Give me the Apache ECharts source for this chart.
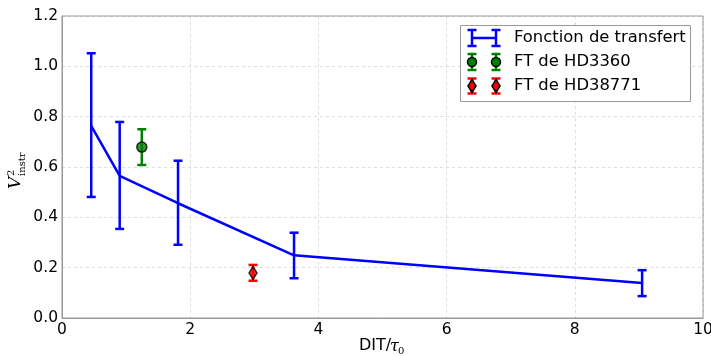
<!DOCTYPE html>
<html><head><meta charset="utf-8">
<script src="https://cdn.jsdelivr.net/npm/echarts@6/dist/echarts.min.js"></script>
<style>html,body{margin:0;padding:0;background:#fff}#c{width:711px;height:356px}</style>
</head><body><div id="c"></div>
<script>
// Transfer function (Fonction de transfert)
var tfX = [0.456, 0.90, 1.81, 3.62, 9.05];
var tfY = [0.763, 0.565, 0.456, 0.249, 0.139];
var tfLow = [0.481, 0.354, 0.291, 0.158, 0.087];
var tfHigh = [1.052, 0.779, 0.625, 0.339, 0.19];
// FT de HD3360
var hd3360X = [1.245];
var hd3360Y = [0.679];
var hd3360Low = [0.608];
var hd3360High = [0.75];
// FT de HD38771
var hd38771X = [2.98];
var hd38771Y = [0.179];
var hd38771Low = [0.148];
var hd38771High = [0.211];
// axis ticks
var xTicks = [0, 2, 4, 6, 8, 10];
var yTicks = [0.0, 0.2, 0.4, 0.6, 0.8, 1.0, 1.2];

var BLUE = '#0000ff', GREEN = '#008000', RED = '#ff0000';
var FONT = 'DejaVu Sans';

function zip3(x, a, b) { return x.map(function (v, i) { return [v, a[i], b[i]]; }); }
function zip2(x, a) { return x.map(function (v, i) { return [v, a[i]]; }); }

function errRender(color) {
  return function (params, api) {
    var x = api.value(0), lo = api.value(1), hi = api.value(2);
    var pLo = api.coord([x, lo]), pHi = api.coord([x, hi]);
    var w = 4.5;
    var st = { stroke: color, lineWidth: 2.5 };
    return {
      type: 'group', children: [
        { type: 'line', shape: { x1: pLo[0], y1: pLo[1], x2: pHi[0], y2: pHi[1] }, style: st },
        { type: 'line', shape: { x1: pLo[0] - w, y1: pLo[1], x2: pLo[0] + w, y2: pLo[1] }, style: st },
        { type: 'line', shape: { x1: pHi[0] - w, y1: pHi[1], x2: pHi[0] + w, y2: pHi[1] }, style: st }
      ]
    };
  };
}

var LZ = 50;
function legendBar(cx, cy, half, color) {
  var st = { stroke: color, lineWidth: 2.5 };
  return [
    { type: 'line', z: LZ + 1, shape: { x1: cx, y1: cy - half, x2: cx, y2: cy + half }, style: st },
    { type: 'line', z: LZ + 1, shape: { x1: cx - 4.5, y1: cy - half, x2: cx + 4.5, y2: cy - half }, style: st },
    { type: 'line', z: LZ + 1, shape: { x1: cx - 4.5, y1: cy + half, x2: cx + 4.5, y2: cy + half }, style: st }
  ];
}

var legendEls = [];
legendEls.push({ type: 'rect', z: LZ, shape: { x: 460.5, y: 25.5, width: 230, height: 76 }, style: { fill: '#fff', stroke: '#999', lineWidth: 1 } });
// entry 1
legendEls = legendEls.concat(legendBar(472, 38, 8, BLUE), legendBar(496, 38, 8, BLUE));
legendEls.push({ type: 'line', z: LZ + 1, shape: { x1: 472, y1: 38, x2: 496, y2: 38 }, style: { stroke: BLUE, lineWidth: 2.5 } });
// entry 2
legendEls = legendEls.concat(legendBar(472, 62, 8, GREEN), legendBar(496, 62, 8, GREEN));
legendEls.push({ type: 'circle', z: LZ + 2, shape: { cx: 472, cy: 62, r: 4.5 }, style: { fill: GREEN, stroke: '#000', lineWidth: 1.5 } });
legendEls.push({ type: 'circle', z: LZ + 2, shape: { cx: 496, cy: 62, r: 4.5 }, style: { fill: GREEN, stroke: '#000', lineWidth: 1.5 } });
// entry 3
legendEls = legendEls.concat(legendBar(472, 86, 7.5, RED), legendBar(496, 86, 7.5, RED));
[472, 496].forEach(function (cx) {
  legendEls.push({ type: 'polygon', z: LZ + 2, shape: { points: [[cx, 79.5], [cx + 4, 86], [cx, 92.5], [cx - 4, 86]] }, style: { fill: RED, stroke: '#000', lineWidth: 1.5 } });
});
var legendNames = ['Fonction de transfert', 'FT de HD3360', 'FT de HD38771'];
[38, 62, 86].forEach(function (y, i) {
  legendEls.push({ type: 'text', z: LZ + 2, x: 514, y: y, style: { text: legendNames[i], font: '16.4px "' + FONT + '"', fill: '#000', verticalAlign: 'middle', align: 'left' } });
});

// y-axis label V^2_instr
var yLabel = {
  type: 'group', x: 20, y: 189, rotation: Math.PI / 2,
  children: [
    { type: 'text', x: 0, y: -4, style: { text: 'V', font: 'italic 17px "DejaVu Serif"', fill: '#000', align: 'left', verticalAlign: 'middle' } },
    { type: 'text', x: 13, y: -9, style: { text: '2', font: '10px "DejaVu Serif"', fill: '#000', align: 'left', verticalAlign: 'middle' } },
    { type: 'text', x: 13, y: 2, style: { text: 'instr', font: '10px "DejaVu Serif"', fill: '#000', align: 'left', verticalAlign: 'middle' } }
  ]
};

// x-axis label DIT/tau_0
var xLabel = {
  type: 'group', x: 0, y: 0,
  children: [
    { type: 'text', x: 359, y: 346, style: { text: 'DIT/', font: '16px "' + FONT + '"', fill: '#000', align: 'left', verticalAlign: 'middle' } },
    { type: 'text', x: 390, y: 347, style: { text: 'τ', font: 'italic 16px "DejaVu Serif"', fill: '#000', align: 'left', verticalAlign: 'middle' } },
    { type: 'text', x: 398, y: 351, style: { text: '0', font: '10px "DejaVu Serif"', fill: '#000', align: 'left', verticalAlign: 'middle' } }
  ]
};

var chart = echarts.init(document.getElementById('c'));
chart.setOption({
  animation: false,
  grid: { left: 62, right: 8, top: 16, bottom: 38, containLabel: false, outerBoundsMode: 'none' },
  xAxis: {
    type: 'value', min: 0, max: 10, interval: 2,
    axisLine: { show: true, lineStyle: { color: '#999', width: 1 } },
    axisTick: { show: false },
    axisLabel: { color: '#000', fontFamily: FONT, fontSize: 15.5, margin: 4 },
    splitLine: { show: true, lineStyle: { color: '#ddd', type: [3, 3], width: 1 } }
  },
  yAxis: {
    type: 'value', min: 0, max: 1.2, interval: 0.2,
    axisLine: { show: true, lineStyle: { color: '#999', width: 1 } },
    axisTick: { show: false },
    axisLabel: { color: '#000', fontFamily: FONT, fontSize: 15.5, margin: 4, formatter: function (v) { return v.toFixed(1); } },
    splitLine: { show: true, lineStyle: { color: '#ddd', type: [3, 3], width: 1 } }
  },
  series: [
    { type: 'line', data: zip2(tfX, tfY), symbol: 'none', lineStyle: { color: BLUE, width: 2.5 }, z: 2 },
    { type: 'custom', data: zip3(tfX, tfLow, tfHigh), renderItem: errRender(BLUE), encode: { x: 0, y: [1, 2] }, z: 3 },
    { type: 'custom', data: zip3(hd3360X, hd3360Low, hd3360High), renderItem: errRender(GREEN), encode: { x: 0, y: [1, 2] }, z: 3 },
    { type: 'custom', data: zip3(hd38771X, hd38771Low, hd38771High), renderItem: errRender(RED), encode: { x: 0, y: [1, 2] }, z: 3 },
    { type: 'scatter', data: zip2(hd3360X, hd3360Y), symbol: 'circle', symbolSize: 10, itemStyle: { color: GREEN, borderColor: '#000', borderWidth: 1.5 }, z: 4 },
    { type: 'scatter', data: zip2(hd38771X, hd38771Y), symbol: 'diamond', symbolSize: [8, 13], itemStyle: { color: RED, borderColor: '#000', borderWidth: 1.5 }, z: 4 }
  ],
  graphic: [
    { type: 'rect', shape: { x: 62, y: 16, width: 641, height: 302 }, style: { fill: 'none', stroke: '#999', lineWidth: 1 }, z: 10, silent: true },
    { type: 'group', children: legendEls, z: LZ },
    yLabel,
    xLabel
  ]
});
</script></body></html>
